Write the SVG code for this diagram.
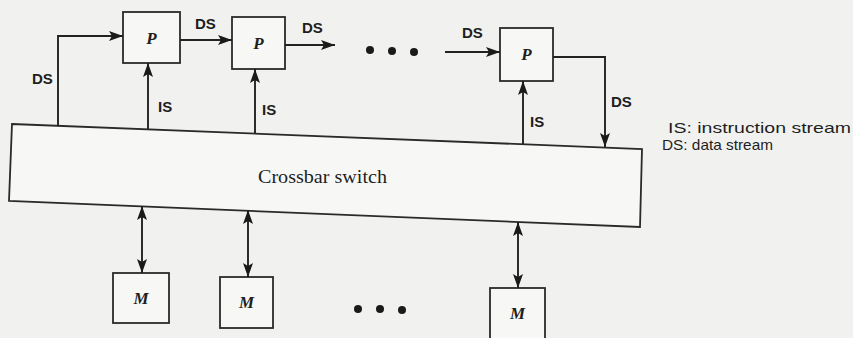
<svg xmlns="http://www.w3.org/2000/svg" width="853" height="338" viewBox="0 0 853 338">
<defs>
<style>
.ln{stroke:#222;stroke-width:1.9;fill:none}
.box{stroke:#2a2a2a;stroke-width:1.8;fill:#f7f8f6}
.lbl{font-family:"Liberation Sans",Arial,sans-serif;font-weight:bold;font-size:15px;fill:#1e1e1e}
.var{font-family:"Liberation Serif","Times New Roman",serif;font-style:italic;font-weight:bold;font-size:17px;fill:#1e1e1e}
.leg{font-family:"Liberation Sans",Arial,sans-serif;font-size:15px;fill:#1e1e1e}
.dot{fill:#1a1a1a}
</style>
<marker id="ah" viewBox="0 0 14 10" refX="14" refY="5" markerWidth="14" markerHeight="10" markerUnits="userSpaceOnUse" orient="auto-start-reverse">
<path d="M0,0 L14,5 L0,10 L3,5 Z" fill="#1a1a1a"/>
</marker>
</defs>
<rect width="853" height="338" fill="#f1f2f0"/>

<g id="crossbar">
<polygon class="box" points="12,124 642,149 640,227 9,201"/>
<text x="258" y="183" font-family="'Liberation Serif','Times New Roman',serif" font-size="19" fill="#1e1e1e" textLength="129" lengthAdjust="spacingAndGlyphs">Crossbar switch</text>
</g>

<g id="P1"><rect class="box" x="123" y="12" width="57" height="51"/><text class="var" x="151.5" y="44" text-anchor="middle">P</text></g>
<g id="P2"><rect class="box" x="232" y="17" width="53" height="52"/><text class="var" x="258.5" y="49" text-anchor="middle">P</text></g>
<g id="P3"><rect class="box" x="500" y="28" width="53" height="53"/><text class="var" x="526.5" y="60" text-anchor="middle">P</text></g>

<g id="M1"><rect class="box" x="113" y="273" width="56" height="50"/><text class="var" x="141" y="304" text-anchor="middle">M</text></g>
<g id="M2"><rect class="box" x="220" y="277" width="53" height="51"/><text class="var" x="246.5" y="308" text-anchor="middle">M</text></g>
<g id="M3"><rect class="box" x="490" y="288" width="55" height="54"/><text class="var" x="517.5" y="319" text-anchor="middle">M</text></g>

<g id="connectors">
<path class="ln" d="M58,126 V36 H123" marker-end="url(#ah)"/>
<path class="ln" d="M148,129 V63" marker-end="url(#ah)"/>
<path class="ln" d="M180,40 H232" marker-end="url(#ah)"/>
<path class="ln" d="M255,133 V69" marker-end="url(#ah)"/>
<path class="ln" d="M285,45 H335" marker-end="url(#ah)"/>
<path class="ln" d="M445,52 H500" marker-end="url(#ah)"/>
<path class="ln" d="M523,144 V81" marker-end="url(#ah)"/>
<path class="ln" d="M553,57 H605 V147" marker-end="url(#ah)"/>
<path class="ln" d="M142,206 V273" marker-start="url(#ah)" marker-end="url(#ah)"/>
<path class="ln" d="M248,210 V277" marker-start="url(#ah)" marker-end="url(#ah)"/>
<path class="ln" d="M518,222 V288" marker-start="url(#ah)" marker-end="url(#ah)"/>
</g>

<g id="labels">
<text class="lbl" x="32" y="84">DS</text>
<text class="lbl" x="158" y="112">IS</text>
<text class="lbl" x="195" y="29">DS</text>
<text class="lbl" x="262" y="115">IS</text>
<text class="lbl" x="302" y="33">DS</text>
<text class="lbl" x="462" y="38">DS</text>
<text class="lbl" x="530" y="127">IS</text>
<text class="lbl" x="611" y="107">DS</text>
</g>

<g id="ellipsis">
<circle class="dot" cx="370" cy="50" r="4"/><circle class="dot" cx="392" cy="51" r="4"/><circle class="dot" cx="414" cy="52" r="4"/>
<circle class="dot" cx="358" cy="309" r="4"/><circle class="dot" cx="380" cy="309" r="4"/><circle class="dot" cx="402" cy="310" r="4"/>
</g>

<g id="legend">
<text class="leg" x="668" y="133" textLength="183" lengthAdjust="spacingAndGlyphs">IS: instruction stream</text>
<text class="leg" x="662" y="150" textLength="111" lengthAdjust="spacingAndGlyphs">DS: data stream</text>
</g>
</svg>
